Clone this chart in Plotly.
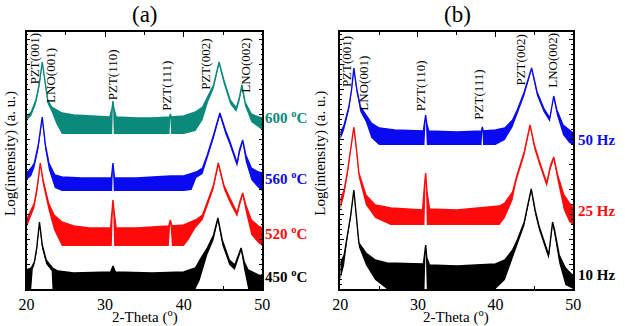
import plotly.graph_objects as go

W, H = 625, 326

# ---------------- data (2-theta in degrees, log intensity in a.u.) ----------------
# Panel (a): annealing temperature series -> (2theta, upper envelope, lower envelope)
a600_x = [20.0, 20.6, 21.2, 21.6, 22.0, 22.3, 22.7, 23.2, 23.8, 24.5, 26.0, 28.0, 30.6, 30.9, 31.0, 31.1,
          31.4, 34.0, 36.0, 38.2, 38.3, 38.4, 40.0, 41.5, 42.4, 43.1, 43.8, 44.5, 45.1, 45.9, 46.7,
          47.1, 47.4, 47.8, 48.6, 49.5, 50.0]
a600_hi = [172, 177, 189, 204, 227, 209, 189, 182, 179, 176, 174, 173, 172, 181, 188, 181,
           172, 171, 171, 172, 175, 172, 173, 177, 182, 193, 204, 227, 209, 189, 181,
           192, 204, 187, 175, 172, 171]
a600_lo = [168, 173, 185, 200, 224, 205, 185, 177, 165, 155, 155, 155, 155, 155, 185, 155,
           155, 155, 155, 155, 172, 155, 155, 158, 169, 187, 200, 224, 205, 185, 177,
           188, 201, 183, 167, 162, 159]

a560_x = [20.0, 20.6, 21.0, 21.5, 22.0, 22.4, 22.85, 23.6, 24.5, 27.0, 30.8, 30.9, 31.0, 31.1, 31.2,
          34.0, 38.3, 40.0, 41.0, 41.6, 42.4, 43.0, 43.8, 44.6, 45.3, 45.8, 46.8, 47.1, 47.5,
          47.9, 48.6, 49.5, 50.0]
a560_hi = [116, 121, 126, 144, 172, 144, 126, 114, 112, 111, 111, 118, 126, 118, 111,
           111, 113, 113, 116, 117, 121, 134, 154, 176, 159, 149, 126, 139, 149,
           134, 121, 117, 116]
a560_lo = [109, 113, 121, 139, 169, 139, 119, 101, 98, 98, 98, 98, 123, 98, 98,
           98, 98, 98, 99, 111, 115, 130, 150, 173, 155, 145, 122, 135, 146,
           127, 109, 101, 98]

a520_x = [20.0, 20.6, 21.0, 21.4, 21.75, 22.1, 22.8, 23.5, 24.5, 26.0, 28.0, 30.7, 30.85, 31.0, 31.15,
          31.4, 34.0, 38.1, 38.3, 38.5, 40.0, 40.6, 41.5, 42.4, 43.0, 43.8, 44.4, 45.1, 45.8,
          46.8, 47.1, 47.5, 47.9, 48.6, 49.5, 50.0]
a520_hi = [69, 79, 86, 104, 126, 109, 86, 74, 67, 63, 61, 61, 77, 89, 77,
           61, 61, 63, 69, 63, 64, 66, 69, 74, 86, 104, 126, 104, 92,
           76, 86, 96, 84, 69, 63, 61]
a520_lo = [61, 73, 81, 99, 123, 104, 79, 59, 43, 43, 43, 43, 43, 86, 43,
           43, 43, 43, 66, 43, 43, 49, 61, 69, 82, 100, 123, 100, 87,
           72, 82, 93, 77, 54, 46, 43]

a450_x = [20.0, 20.6, 20.8, 21.0, 21.3, 21.65, 22.0, 22.5, 23.2, 23.3, 24.0, 26.0, 30.7, 31.0, 31.3,
          36.0, 40.0, 41.5, 42.05, 43.0, 43.8, 44.35, 44.9, 45.8, 46.5, 46.9, 47.3, 47.7,
          48.2, 49.5, 50.0]
a450_hi = [19, 21, 24, 27, 41, 67, 44, 29, 22, 21, 18, 16, 17, 23, 17,
           16, 17, 21, 29, 41, 54, 71, 49, 29, 24, 33, 41, 27,
           19, 14, 13]
a450_lo = [0, 0, 20, 24, 37, 64, 40, 25, 18, 0, 0, 0, 0, 0, 0,
           0, 0, 0, 9, 34, 49, 68, 44, 24, 19, 29, 38, 19,
           0, 0, 0]

# Panel (b): pulse frequency series
b50_x = [20.0, 20.5, 21.1, 21.45, 21.75, 22.1, 22.6, 23.3, 24.0, 25.0, 27.0, 30.7, 30.85, 31.0, 31.15,
         31.4, 35.0, 38.2, 38.3, 38.4, 40.0, 41.2, 42.2, 42.8, 43.7, 44.65, 45.35, 46.2, 47.0,
         47.35, 47.5, 47.9, 48.7, 49.5, 50.0]
b50_hi = [156, 164, 182, 199, 221, 201, 182, 174, 166, 161, 159, 158, 167, 174, 165,
          158, 157, 158, 162, 158, 159, 161, 169, 179, 197, 221, 197, 181, 171,
          189, 193, 179, 164, 159, 156]
b50_lo = [149, 159, 178, 196, 219, 197, 177, 167, 151, 144, 144, 144, 144, 171, 144,
          144, 144, 144, 159, 144, 144, 149, 162, 175, 193, 219, 193, 177, 167,
          186, 190, 174, 154, 146, 144]

b25_x = [20.0, 20.5, 20.9, 21.35, 21.75, 22.1, 22.4, 23.3, 24.5, 26.5, 30.6, 30.85, 31.0, 31.15,
         31.5, 35.0, 38.3, 40.5, 41.2, 42.2, 42.7, 43.7, 44.45, 45.0, 45.6, 46.6, 47.1, 47.5,
         48.0, 48.8, 49.5, 50.0]
b25_hi = [89, 99, 116, 139, 162, 139, 116, 94, 84, 81, 79, 104, 116, 99,
          80, 79, 81, 83, 86, 97, 112, 137, 164, 144, 129, 106, 124, 132,
          114, 94, 86, 82]
b25_lo = [79, 93, 112, 136, 160, 135, 111, 84, 71, 64, 64, 64, 113, 64,
          64, 64, 64, 64, 71, 89, 108, 133, 162, 140, 125, 102, 120, 129,
          108, 79, 67, 64]

b10_x = [20.0, 20.5, 20.9, 21.35, 21.75, 22.1, 22.4, 23.3, 24.5, 26.0, 30.7, 30.85, 31.0, 31.15,
         31.5, 35.0, 40.0, 41.2, 42.2, 42.8, 43.7, 44.6, 45.1, 45.6, 46.85, 47.35, 47.6,
         48.2, 49.0, 50.0]
b10_hi = [26, 34, 53, 74, 99, 69, 46, 36, 29, 26, 25, 34, 44, 31,
          24, 23, 25, 29, 39, 49, 67, 100, 79, 63, 34, 67, 59,
          34, 21, 13]
b10_lo = [9, 24, 49, 71, 97, 65, 42, 24, 9, 0, 0, 0, 41, 0,
          0, 0, 0, 9, 31, 45, 63, 98, 75, 59, 30, 64, 54,
          26, 4, 0]

peak_labels = ["PZT(001)", "LNO(001)", "PZT(110)", "PZT(111)", "PZT(002)", "LNO(002)"]
series_a = ["600 <sup>o</sup>C", "560 <sup>o</sup>C", "520 <sup>o</sup>C", "450 <sup>o</sup>C"]
series_b = ["50 Hz", "25 Hz", "10 Hz"]
x_ticks = [20, 30, 40, 50]

TEAL, BLUE, RED, BLACK = "#0b8a7c", "#0a0af0", "#ff0a0a", "#000000"
SERIF = "Liberation Serif, Times New Roman, serif"

# ---------------- layout helpers (pixel geometry) ----------------
AX_L, AX_R = 19, 261
BX_L, BX_R = 341, 580
P_TOP, P_BOT = 32, 289


def px(x):
    return x / W


def py(y):
    return 1 - y / H


fig = go.Figure()


def add_series(xs, hi, lo, color, xa, ya):
    fig.add_trace(go.Scatter(x=xs, y=lo, mode="lines", line=dict(width=0, color=color),
                             xaxis=xa, yaxis=ya, showlegend=False, hoverinfo="skip"))
    fig.add_trace(go.Scatter(x=xs, y=hi, mode="lines", line=dict(width=1.4, color=color),
                             fill="tonexty", fillcolor=color,
                             xaxis=xa, yaxis=ya, showlegend=False))


add_series(a600_x, a600_hi, a600_lo, TEAL, "x", "y")
add_series(a560_x, a560_hi, a560_lo, BLUE, "x", "y")
add_series(a520_x, a520_hi, a520_lo, RED, "x", "y")
add_series(a450_x, a450_hi, a450_lo, BLACK, "x", "y")
add_series(b50_x, b50_hi, b50_lo, BLUE, "x2", "y2")
add_series(b25_x, b25_hi, b25_lo, RED, "x2", "y2")
add_series(b10_x, b10_hi, b10_lo, BLACK, "x2", "y2")

xcommon = dict(range=[20, 50], tickvals=x_ticks, ticks="inside", ticklen=5, tickwidth=1.2,
               tickcolor="black", showline=True, linecolor="black", linewidth=1.5, mirror="ticks",
               showgrid=False, zeroline=False, tickfont=dict(family=SERIF, size=16, color="black"),
               minor=dict(dtick=5, ticks="inside", ticklen=3, tickcolor="black", showgrid=False))
ycommon = dict(range=[0, 257], dtick=25, ticks="inside", ticklen=4, tickwidth=1, tickcolor="black",
               showticklabels=False, showline=True, linecolor="black", linewidth=1.5, mirror="ticks",
               showgrid=False, zeroline=False,
               minor=dict(dtick=5, ticks="inside", ticklen=2, tickcolor="black", showgrid=False))

fig.update_layout(
    width=W, height=H, margin=dict(l=0, r=0, t=0, b=0),
    paper_bgcolor="white", plot_bgcolor="white",
    xaxis={**xcommon, "domain": [px(AX_L), px(AX_R)], "anchor": "y"},
    yaxis={**ycommon, "domain": [py(P_BOT), py(P_TOP)], "anchor": "x"},
    xaxis2={**xcommon, "domain": [px(BX_L), px(BX_R)], "anchor": "y2"},
    yaxis2={**ycommon, "domain": [py(P_BOT), py(P_TOP)], "anchor": "x2"},
    showlegend=False,
)

ann = []


def text(x, y, s, size, color="black", angle=0, bold=False, xanchor="center"):
    if bold:
        s = "<b>" + s + "</b>"
    ann.append(dict(x=px(x), y=py(y), xref="paper", yref="paper", text=s, showarrow=False,
                    textangle=angle, xanchor=xanchor, yanchor="middle",
                    font=dict(family=SERIF, size=size, color=color)))


# panel titles
text(141, 15, "(a)", 23)
text(461, 15, "(b)", 23)
# x titles
text(141, 316, "2-Theta (<sup>o</sup>)", 15)
text(460, 316, "2-Theta (<sup>o</sup>)", 15)
# y titles
text(3, 153, "Log(intensity) (a. u.)", 15, angle=-90)
text(321, 153, "Log(intensity) (a. u.)", 15, angle=-90)

# peak labels (rotated, centres in pixels)
pos_a = [(27, 59), (43, 75), (107, 75), (162, 86), (203, 64), (244, 65)]
pos_b = [(347, 62), (365, 83), (423, 86), (482, 95), (525, 60), (558, 60)]
for lab, (x, y) in zip(peak_labels, pos_a):
    text(x, y, lab, 13, angle=-90)
for lab, (x, y) in zip(peak_labels, pos_b):
    text(x, y, lab, 13, angle=-90)

# series labels
for lab, y, c in zip(series_a, [117, 178, 233, 276], [TEAL, BLUE, RED, BLACK]):
    text(262, y, lab, 15, color=c, bold=True, xanchor="left")
for lab, y, c in zip(series_b, [140, 211, 275], [BLUE, RED, BLACK]):
    text(583, y, lab, 15, color=c, bold=True, xanchor="left")

fig.update_layout(annotations=ann)
fig.write_html("out.html", config={"displayModeBar": False},
               post_script="document.body.style.margin='0';document.body.style.overflow='hidden';")
